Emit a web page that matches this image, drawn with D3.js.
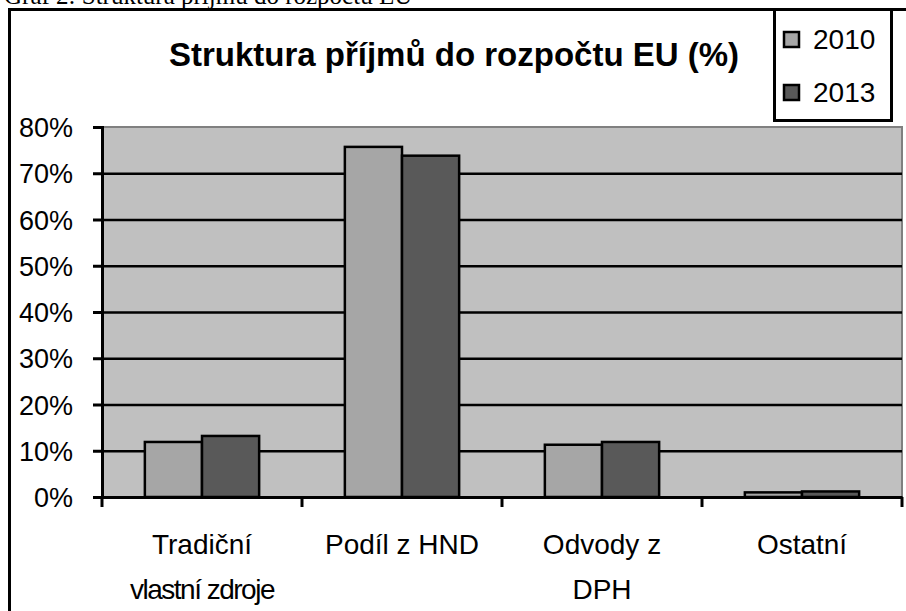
<!DOCTYPE html>
<html>
<head>
<meta charset="utf-8">
<script src="https://cdn.jsdelivr.net/npm/d3@7"></script>
<style>
  body { margin: 0; background: #fff; }
  svg text { font-family: "Liberation Sans", Arial, sans-serif; fill: #000; }
</style>
</head>
<body>
<div class="canvas"></div>
<script>
// data
const categories = ['Tradiční vlastní zdroje', 'Podíl z HND', 'Odvody z DPH', 'Ostatní']
const categoryLines = [['Tradiční', 'vlastní zdroje'], ['Podíl z HND'], ['Odvody z', 'DPH'], ['Ostatní']]
const seriesNames = ['2010', '2013']
const values2010 = [11.9, 75.7, 11.3, 1.0]
const values2013 = [13.2, 73.8, 11.9, 1.2]
const yTicks = [0, 10, 20, 30, 40, 50, 60, 70, 80]

const rows = categories.map((c, i) => ({ cat: c, vals: [values2010[i], values2013[i]] }))
const colour = d3.scaleOrdinal(seriesNames, ['#a6a6a6', '#595959'])

const svg = d3.select('.canvas')
  .append('svg')
  .attr('width', 906)
  .attr('height', 611)

// caption of the document, mostly cut off at the top
svg.append('text')
  .attr('x', 4)
  .attr('y', 4)
  .style('font-family', '"Liberation Serif", "Times New Roman", serif')
  .style('font-size', '25px')
  .text('Graf 2: Struktura příjmů do rozpočtu EU')

// outer chart frame (right / bottom run off the picture)
svg.append('rect')
  .attr('x', 9.5).attr('y', 9.5)
  .attr('width', 920).attr('height', 640)
  .attr('fill', '#fff')
  .attr('stroke', '#000')
  .attr('stroke-width', 3)

const plot = { left: 102, right: 902, top: 127, bottom: 497 }

const x = d3.scaleBand()
  .domain(categories)
  .range([plot.left, plot.right])

const xInner = d3.scaleBand()
  .domain(seriesNames)
  .range([0, x.bandwidth()])
  .paddingInner(0)
  .paddingOuter(0.75)

const y = d3.scaleLinear()
  .domain([0, 80])
  .range([plot.bottom, plot.top])

// plot background
svg.append('rect')
  .attr('x', plot.left).attr('y', plot.top)
  .attr('width', plot.right - plot.left)
  .attr('height', plot.bottom - plot.top)
  .attr('fill', '#c0c0c0')

svg.append('path')
  .attr('d', `M${plot.left},${plot.top}H${plot.right}V${plot.bottom}`)
  .attr('fill', 'none')
  .attr('stroke', '#808080')
  .attr('stroke-width', 2)

// gridlines
const grid = svg.append('g')
  .attr('transform', `translate(${plot.left},0)`)
  .call(d3.axisLeft(y).tickValues(yTicks.slice(1, -1)).tickSize(-(plot.right - plot.left)).tickFormat(''))
grid.select('.domain').remove()
grid.selectAll('line').attr('stroke', '#000').attr('stroke-width', 2.5)

// bars
const groups = svg.selectAll('g.grp')
  .data(rows)
  .enter()
  .append('g')
  .attr('class', 'grp')
  .attr('transform', d => `translate(${x(d.cat)},0)`)

groups.selectAll('rect')
  .data(d => d.vals.map((v, i) => ({ name: seriesNames[i], v })))
  .enter()
  .append('rect')
  .attr('x', d => xInner(d.name))
  .attr('y', d => y(d.v))
  .attr('width', xInner.bandwidth())
  .attr('height', d => y(0) - y(d.v))
  .attr('fill', d => colour(d.name))
  .attr('stroke', '#000')
  .attr('stroke-width', 2.5)

// y axis
const yAxis = svg.append('g')
  .attr('transform', `translate(${plot.left},0)`)
  .call(d3.axisLeft(y).tickValues(yTicks).tickSize(9).tickPadding(20).tickFormat(d => d + '%'))
yAxis.select('.domain').attr('stroke', '#000').attr('stroke-width', 3)
yAxis.selectAll('line').attr('stroke', '#000').attr('stroke-width', 3)
yAxis.selectAll('text').style('font-size', '27px').attr('dy', '0.36em')

// x axis
const xAxis = svg.append('g')
  .attr('transform', `translate(0,${plot.bottom})`)
  .call(d3.axisBottom(x).tickValues([]).tickSizeOuter(0))
xAxis.select('.domain').attr('stroke', '#000').attr('stroke-width', 3)
xAxis.selectAll('line.sep')
  .data(d3.range(categories.length + 1))
  .enter()
  .append('line')
  .attr('class', 'sep')
  .attr('x1', i => plot.left + i * x.step())
  .attr('x2', i => plot.left + i * x.step())
  .attr('y1', 0).attr('y2', 10)
  .attr('stroke', '#000')
  .attr('stroke-width', 3)

const labels = svg.selectAll('text.cat')
  .data(categories)
  .enter()
  .append('text')
  .attr('class', 'cat')
  .attr('text-anchor', 'middle')
  .style('font-size', '28px')
  .attr('transform', d => `translate(${x(d) + x.bandwidth() / 2},554)`)

labels.selectAll('tspan')
  .data((d, i) => categoryLines[i])
  .enter()
  .append('tspan')
  .attr('x', 0)
  .attr('y', (d, i) => i * 45)
  .style('letter-spacing', d => d === 'vlastní zdroje' ? '-1.5px' : null)
  .text(d => d)

// title
svg.append('text')
  .attr('x', 454)
  .attr('y', 66)
  .attr('text-anchor', 'middle')
  .style('font-size', '33px')
  .style('font-weight', 'bold')
  .text('Struktura příjmů do rozpočtu EU (%)')

// legend
const legend = svg.append('g')
legend.append('rect')
  .attr('x', 774.5).attr('y', 9.5)
  .attr('width', 117).attr('height', 111)
  .attr('fill', '#fff')
  .attr('stroke', '#000')
  .attr('stroke-width', 3)

const items = legend.selectAll('g')
  .data(seriesNames)
  .enter()
  .append('g')
  .attr('transform', (d, i) => `translate(784,${39 + i * 53})`)

items.append('rect')
  .attr('x', 0).attr('y', -7)
  .attr('width', 15).attr('height', 15)
  .attr('fill', d => colour(d))
  .attr('stroke', '#000')
  .attr('stroke-width', 2.5)

items.append('text')
  .attr('x', 29)
  .attr('dy', '0.36em')
  .style('font-size', '28px')
  .text(d => d)
</script>
</body>
</html>
